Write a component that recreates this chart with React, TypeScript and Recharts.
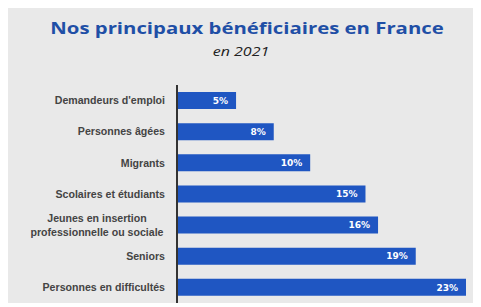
import React from 'react';
import { BarChart, Bar, XAxis, YAxis, LabelList } from 'recharts';

const categories = [
  'Demandeurs d\'emploi',
  'Personnes âgées',
  'Migrants',
  'Scolaires et étudiants',
  'Jeunes en insertion\nprofessionnelle ou sociale',
  'Seniors',
  'Personnes en difficultés',
];
const shares = [4.7, 7.7, 10.6, 15, 16, 19, 23];
const shareLabels = ['5%', '8%', '10%', '15%', '16%', '19%', '23%'];

const data = categories.map((name, i) => ({ name, value: shares[i], label: shareLabels[i] }));

const CategoryTick = ({ x, y, payload }: any) => {
  const lines = String(payload.value).split('\n');
  const style = { fontFamily: '"Liberation Sans", Arial, sans-serif', fontSize: 10.6, fontWeight: 700, fill: '#444' };
  if (lines.length === 1) {
    return (
      <text x={x - 4} y={y} dy={3.7} textAnchor="end" {...style}>
        {lines[0]}
      </text>
    );
  }
  return (
    <text x={x - 72} y={y} textAnchor="middle" {...style}>
      {lines.map((line, i) => (
        <tspan key={i} x={x - 72} dy={i === 0 ? -3.3 : 14}>
          {line}
        </tspan>
      ))}
    </text>
  );
};

const ValueLabel = ({ x, y, width, height, index }: any) => (
  <text
    x={x + width - 8}
    y={y + height / 2}
    dy={3.2}
    textAnchor="end"
    fill="#fff"
    fontSize={9}
    fontWeight={700}
    fontFamily='"DejaVu Sans", sans-serif'
  >
    {shareLabels[index]}
  </text>
);

export default function App() {
  return (
    <div style={{ position: 'relative', width: 466, height: 296, background: '#e9e9e9', marginTop: -1 }}>
      <div
        style={{
          position: 'absolute',
          top: 9.5,
          left: 5.5,
          width: 466,
          textAlign: 'center',
          fontFamily: '"Open Sans", sans-serif',
          fontWeight: 700,
          fontSize: 16,
          lineHeight: 'normal',
          color: '#1f4fa6',
          transform: 'scaleX(1.27)',
          transformOrigin: '233px 0',
          whiteSpace: 'nowrap',
        }}
      >
        Nos principaux bénéficiaires en France
      </div>
      <div
        style={{
          position: 'absolute',
          top: 35,
          left: 0,
          width: 466,
          textAlign: 'center',
          fontFamily: '"Open Sans", sans-serif',
          fontStyle: 'italic',
          fontSize: 13,
          lineHeight: 'normal',
          color: '#222',
          transform: 'scaleX(1.23)',
          transformOrigin: '233px 0',
        }}
      >
        en 2021
      </div>
      <BarChart
        width={466}
        height={296}
        data={data}
        layout="vertical"
        margin={{ top: 78, right: 8, bottom: 0, left: 0 }}
        barSize={17}
      >
        <XAxis type="number" domain={[0, 23]} hide />
        <YAxis
          type="category"
          dataKey="name"
          width={169}
          tickLine={false}
          axisLine={{ stroke: '#333', strokeWidth: 2 }}
          tick={<CategoryTick />}
          interval={0}
        />
        <Bar dataKey="value" fill="#1f56c2" isAnimationActive={false}>
          <LabelList dataKey="label" content={<ValueLabel />} />
        </Bar>
      </BarChart>
    </div>
  );
}
